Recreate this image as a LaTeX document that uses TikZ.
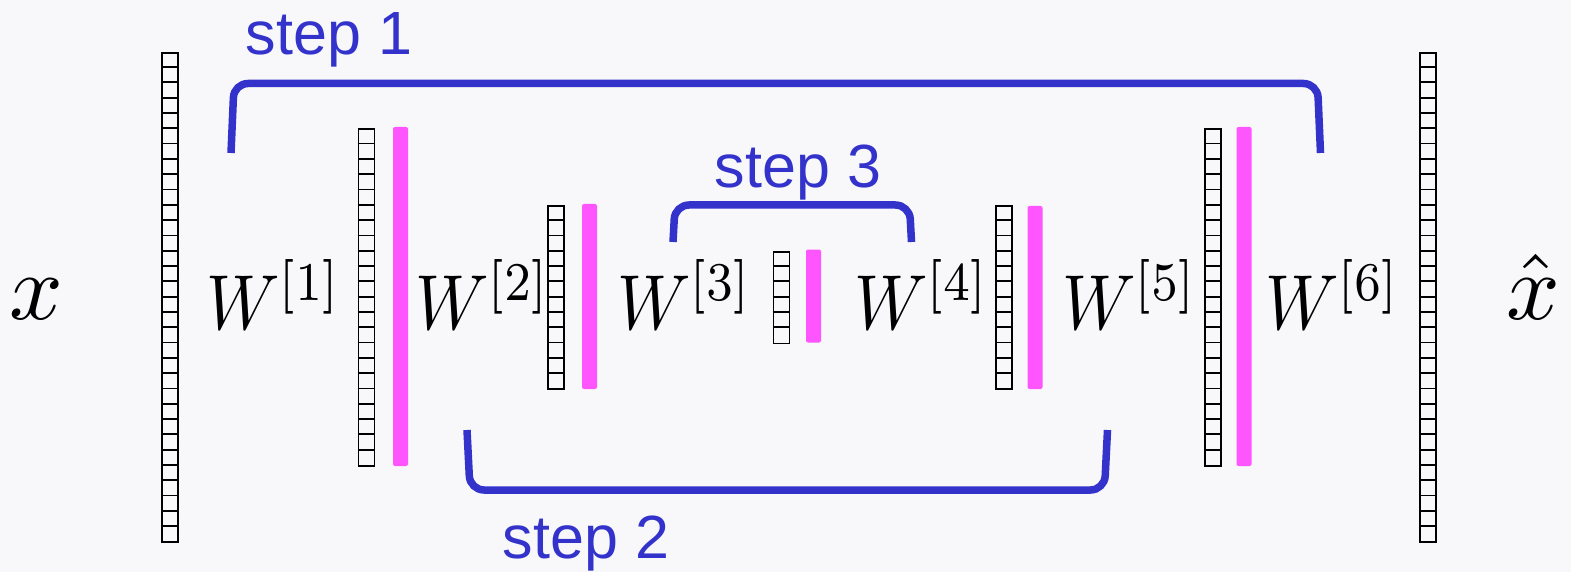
\documentclass[tikz,border=0pt]{standalone}
\usepackage{fontspec}
\newfontfamily\stepfont{Liberation Sans}
\usetikzlibrary{calc}
\definecolor{bg}{RGB}{248,248,250}
\definecolor{brk}{RGB}{51,51,204}
\definecolor{pinkbar}{RGB}{255,85,255}
\tikzset{
  cellcol/.style={draw=black, line width=1.8pt, minimum width=16pt, inner sep=0pt},
  cellline/.style={draw=black, line width=1.8pt},
  pinkbox/.style={fill=pinkbar, rounded corners=2pt, minimum width=15pt, inner sep=0pt},
  mathlbl/.style={font=\normalsize, scale=7.8, xscale=0.87, inner sep=0pt, anchor=base west},
  xlbl/.style={font=\normalsize, scale=9.4, inner sep=0pt, anchor=base west},
  steplbl/.style={font=\stepfont\fontsize{61}{61}\selectfont, text=brk, inner sep=0pt, anchor=base},
  bracket/.style={draw=brk, line width=7.5pt, rounded corners=14pt}
}
\newcommand\vecol[3]{%
  \node[cellcol, minimum height=#3*15.3pt] (#1) at (#2,297.5) {};
  \pgfmathtruncatemacro\nmcells{#3-1}
  \foreach \k in {1,...,\nmcells}{\draw[cellline] ($(#1.north west)+(0,\k*15.3)$) -- ($(#1.north east)+(0,\k*15.3)$);}
}
\begin{document}
\begin{tikzpicture}[x=1pt,y=-1pt]
\fill[bg] (0,0) rectangle (1571,572);
\useasboundingbox (0,0) rectangle (1571,572);
% vectors
\vecol{vin}{170}{32}
\vecol{v1}{366.5}{22}
\vecol{v2}{556}{12}
\vecol{v3}{781.5}{6}
\vecol{v4}{1004}{12}
\vecol{v5}{1213}{22}
\vecol{vout}{1428}{32}
% pink bars
\node[pinkbox, minimum height=339pt] (p1) at (400.5,296.5) {};
\node[pinkbox, minimum height=185pt] (p2) at (589.5,296.5) {};
\node[pinkbox, minimum height=93pt] (p3) at (813.5,296) {};
\node[pinkbox, minimum height=183pt] (p4) at (1035,297.5) {};
\node[pinkbox, minimum height=339pt] (p5) at (1244,296.5) {};
% labels
\node[xlbl] (lx) at (8,319) {$x$};
\node[mathlbl] (w1) at (205,329) {$W^{[1]}$};
\node[mathlbl] (w2) at (414,329) {$W^{[2]}$};
\node[mathlbl] (w3) at (616,329) {$W^{[3]}$};
\node[mathlbl] (w4) at (853,329) {$W^{[4]}$};
\node[mathlbl] (w5) at (1061,329) {$W^{[5]}$};
\node[mathlbl] (w6) at (1264,329) {$W^{[6]}$};
\node[xlbl] (lxh) at (1505,319) {$\hat{x}$};
% brackets
\coordinate (s1a) at (231,153);
\coordinate (s1b) at (1320.5,153);
\draw[bracket] (s1a) -- (234,83.5) -- (1317.5,83.5) -- (s1b);
\node[steplbl] (t1) at (329,55) {step 1};
\coordinate (s3a) at (673,242);
\coordinate (s3b) at (911.5,242);
\draw[bracket] (s3a) -- (675,205) -- (909.5,205) -- (s3b);
\node[steplbl] (t3) at (798,188) {step 3};
\coordinate (s2a) at (467,430);
\coordinate (s2b) at (1107.5,430);
\draw[bracket] (s2a) -- (470,490) -- (1104.5,490) -- (s2b);
\node[steplbl] (t2) at (586,558) {step 2};
\end{tikzpicture}
\end{document}
